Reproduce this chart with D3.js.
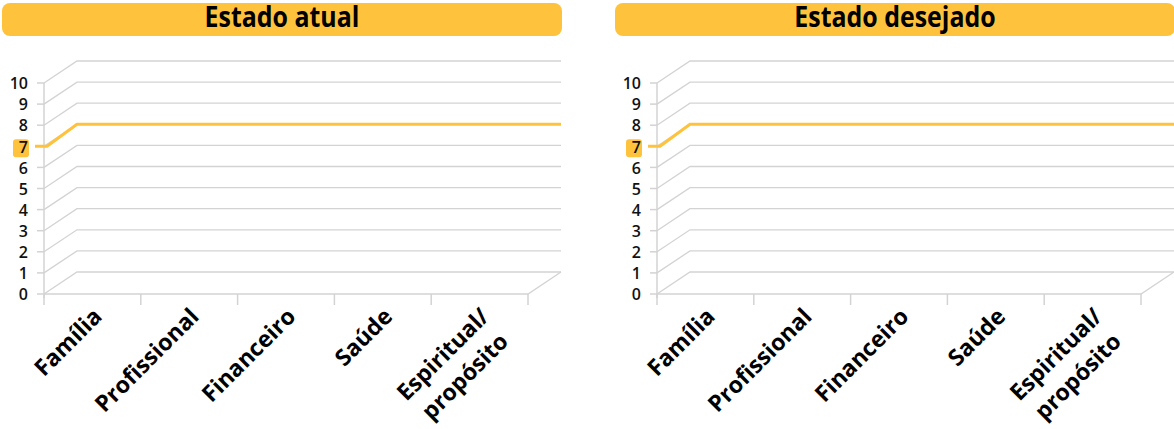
<!DOCTYPE html>
<html>
<head>
<meta charset="utf-8">
<script src="https://cdn.jsdelivr.net/npm/d3@7"></script>
<style>
  html, body { margin: 0; padding: 0; background: #fff; }
  svg { display: block; }
  .title { font-family: "Open Sans", "DejaVu Sans", sans-serif; font-weight: bold; }
  .ytick { font-family: "Open Sans", sans-serif; font-weight: 600; }
  .xlab { font-family: "Open Sans", sans-serif; font-weight: bold; }
</style>
</head>
<body>
<svg id="chart" width="1174" height="429"></svg>
<script>
// chart data
const titles = ["Estado atual", "Estado desejado"];
const categories = ["Família", "Profissional", "Financeiro", "Saúde", "Espiritual/\npropósito"];
const atualValues = [7, 7, 7, 7, 7];
const desejadoValues = [7, 7, 7, 7, 7];
const yTicks = [0, 1, 2, 3, 4, 5, 6, 7, 8, 9, 10];
const highlightTick = 7;

const GOLD = "#ffc23c";
const GRID = "#d3d3d3";
// 3d depth offset of the back wall
const DX = 33, DY = -22;

const svg = d3.select("#chart");

function drawPanel(ox, title, values) {
  let g = svg.append("g").attr("transform", `translate(${ox},0)`);

  let x = d3.scaleBand().domain(categories).range([44, 528]);
  let y = d3.scaleLinear().domain([0, 10]).range([294, 83]);

  // title bar
  g.append("rect")
    .attr("x", 2).attr("y", 3).attr("width", 560).attr("height", 33)
    .attr("rx", 8).attr("fill", GOLD);
  // condensed look: squeeze the bold face horizontally
  g.append("text").attr("class", "title")
    .attr("transform", "translate(282,27) scale(0.86,1)")
    .attr("text-anchor", "middle")
    .attr("font-size", 29)
    .attr("fill", "#000")
    .text(title);

  let x0 = x.range()[0], x1 = x.range()[1];

  // gridlines: side wall diagonal + back wall
  g.selectAll("path.grid").data(yTicks).enter()
    .append("path").attr("class", "grid")
    .attr("fill", "none").attr("stroke", GRID).attr("stroke-width", 1.3)
    .attr("d", d => `M${x0},${y(d)} L${x0 + DX},${y(d) + DY} L${x1 + DX},${y(d) + DY}`);

  // floor front edge + right side
  g.append("path")
    .attr("fill", "none").attr("stroke", GRID).attr("stroke-width", 1.3)
    .attr("d", `M${x0},${y(0)} L${x1},${y(0)} L${x1 + DX},${y(0) + DY}`);

  // y axis line
  g.append("line")
    .attr("x1", x0).attr("x2", x0).attr("y1", y(10)).attr("y2", y(0) + 4)
    .attr("stroke", GRID).attr("stroke-width", 1.5);

  // y ticks
  g.selectAll("line.ytk").data(yTicks).enter()
    .append("line").attr("class", "ytk")
    .attr("x1", x0 - 7).attr("x2", x0)
    .attr("y1", d => y(d)).attr("y2", d => y(d))
    .attr("stroke", GRID).attr("stroke-width", 1.5);

  // x ticks at band edges
  let edges = categories.map(c => x(c)).concat([x1]);
  g.selectAll("line.xtk").data(edges).enter()
    .append("line").attr("class", "xtk")
    .attr("x1", d => d).attr("x2", d => d)
    .attr("y1", y(0)).attr("y2", y(0) + 11)
    .attr("stroke", GRID).attr("stroke-width", 1.5);

  // highlight behind the 7 label
  g.append("rect")
    .attr("x", 13).attr("y", y(highlightTick) - 7)
    .attr("width", 16).attr("height", 18).attr("rx", 3)
    .attr("fill", GOLD);

  g.selectAll("text.ytick").data(yTicks).enter()
    .append("text").attr("class", "ytick")
    .attr("x", 28).attr("y", d => y(d) + 2)
    .attr("text-anchor", "end").attr("dominant-baseline", "middle")
    .attr("font-size", 16).attr("fill", "#111")
    .text(d => d);

  // series line, drawn on the back wall with the side segment
  let pts = values.map((v, i) => [x(categories[i]) + x.bandwidth() / 2 + DX, y(v) + DY]);
  pts.unshift([x0 + DX, y(values[0]) + DY]);
  pts.unshift([x0 + 3, y(values[0])]);
  pts.unshift([x0 - 9, y(values[0])]);
  pts.push([x1 + DX, y(values[values.length - 1]) + DY]);
  g.append("path")
    .attr("fill", "none").attr("stroke", GOLD).attr("stroke-width", 3)
    .attr("stroke-linejoin", "round")
    .attr("d", d3.line()(pts));

  // category labels, rotated
  categories.forEach(c => {
    let lines = c.split("\n");
    let t = g.append("text").attr("class", "xlab")
      .attr("font-size", 23).attr("fill", "#000")
      .attr("text-anchor", "end")
      .attr("transform", `translate(${x(c) + x.bandwidth() / 2 + 11},${y(0) + 24}) rotate(-45)`);
    let spans = lines.map((s, i) => t.append("tspan")
      .attr("x", 0).attr("dy", i === 0 ? 0 : 31).text(s));
    if (lines.length > 1) {
      let w0 = spans[0].node().getComputedTextLength();
      spans.forEach(s => {
        let w = s.node().getComputedTextLength();
        s.attr("x", -(w0 - w) / 2);
      });
    }
  });
}

drawPanel(0, titles[0], atualValues);
drawPanel(613, titles[1], desejadoValues);
</script>
</body>
</html>
